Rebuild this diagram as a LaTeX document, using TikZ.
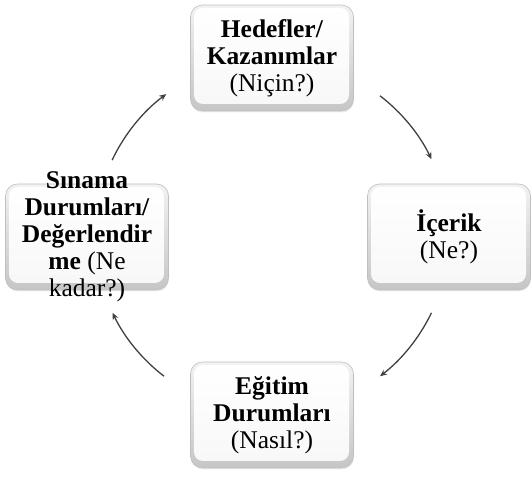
\documentclass[tikz,border=0pt]{standalone}
\usepackage{fontspec}
\setmainfont{Liberation Serif}
\usetikzlibrary{shadows,arrows.meta}
\begin{document}
\begin{tikzpicture}[x=1pt,y=1pt,
    kutu/.style={rounded corners=12pt, draw=gray!50, line width=0.6pt,
      top color=gray!10, bottom color=gray!45,
      minimum width=163pt, minimum height=106pt, align=center,
      font=\fontsize{25.5}{27}\selectfont,
      path picture={\shade[rounded corners=9pt, top color=white, bottom color=gray!6]
          ([xshift=3.5pt,yshift=-3pt]path picture bounding box.north west) rectangle
          ([xshift=-4.5pt,yshift=7pt]path picture bounding box.south east);},
      drop shadow={opacity=0.15, shadow xshift=0.5pt, shadow yshift=-1.5pt}},
    ok/.style={-{Stealth[length=7pt,width=6pt]}, line width=1.3pt, draw=black!75}]
  \useasboundingbox (0,0) rectangle (531,477);
  \node[kutu] (hedef) at (272,419) {\textbf{Hedefler/}\\\textbf{Kazanımlar}\\(Niçin?)};
  \node[kutu] (icerik) at (449,240) {\textbf{İçerik}\\(Ne?)};
  \node[kutu] (egitim) at (272,62) {\textbf{Eğitim}\\\textbf{Durumları}\\(Nasıl?)};
  \node[kutu] (sinama) at (87,240) {};
  \node[align=center, font=\fontsize{25.5}{27}\selectfont] (sinamayazi) at (sinama)
    {\textbf{Sınama}\\\textbf{Durumları/}\\\textbf{Değerlendir}\\\textbf{me} (Ne\\kadar?)};
  \coordinate (merkez) at (272,241);
  \foreach \i/\a/\b in {1/154.6/126.7, 2/52.4/25.7, 3/-25.7/-52.4, 4/-127.6/-154.3} {
      \path (merkez) ++(\a:177) coordinate (bas\i);
      \draw[ok] (bas\i) arc[start angle=\a, end angle=\b, radius=177];
    }
\end{tikzpicture}
\end{document}
